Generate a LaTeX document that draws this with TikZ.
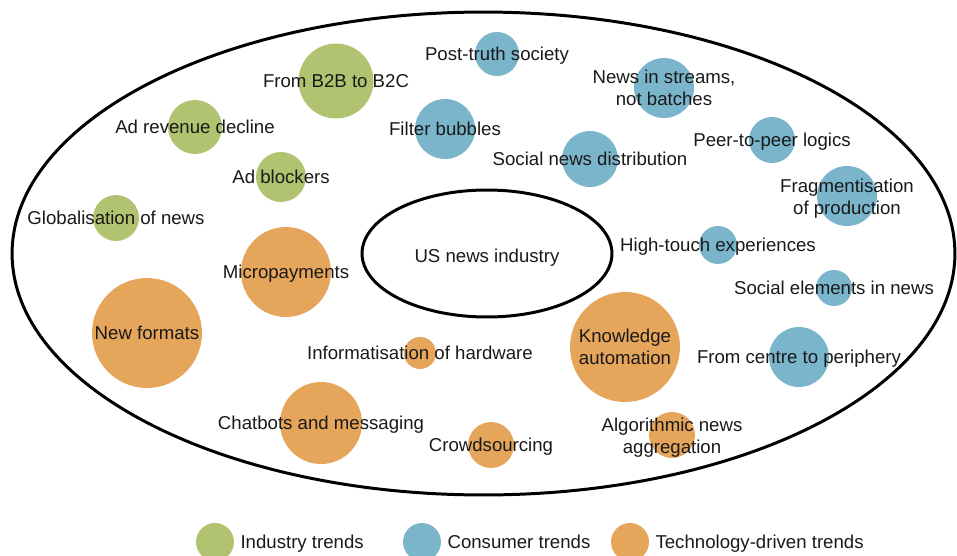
\documentclass[tikz,border=0pt]{standalone}
\usepackage{fontspec}
\setmainfont{Liberation Sans}
\usepackage{tikz}
\usetikzlibrary{shapes.geometric}
\definecolor{industry}{RGB}{177,195,112}
\definecolor{consumer}{RGB}{122,181,203}
\definecolor{techdriven}{RGB}{229,165,90}

\begin{document}
\begin{tikzpicture}[x=0.02cm, y=-0.02cm,
	every node/.style={font=\fontsize{10.6}{12.8}\selectfont, text=black!90},
	every label/.style={text height=0.72em, text depth=0pt},
	two_lines/.style={align=center, text height=, text depth=},
	trend_node/.style={circle, inner sep=0pt, minimum size=#1*0.04cm},
	industry_node/.style={trend_node=#1, fill=industry},
	consumer_node/.style={trend_node=#1, fill=consumer},
	tech_node/.style={trend_node=#1, fill=techdriven},
	ring_node/.style={ellipse, draw, line width=1.7pt, inner sep=0pt}]
				
				\useasboundingbox (0,0) rectangle (957,555);
				\clip (0,0) rectangle (957,555);
				
				\node[ring_node, minimum width=18.86cm, minimum height=9.66cm] (0) at (483.5,253.5) {};
				\node[ring_node, minimum width=5cm, minimum height=2.54cm, text height=1em, text depth=0pt] (1) at (487,253.5) {US news industry};
				
				\node[industry_node=37.5, label=center:From B2B to B2C] (2) at (336,81) {};
				\node[industry_node=27, label=center:Ad revenue decline] (3) at (195,127) {};
				\node[industry_node=25, label=center:Ad blockers] (4) at (281,177) {};
				\node[industry_node=23, label=center:Globalisation of news] (5) at (116,218) {};
				
				\node[consumer_node=22, label=center:Post-truth society] (6) at (497,54) {};
				\node[consumer_node=30, label=center:Filter bubbles] (7) at (445,129) {};
				\node[consumer_node=30, label={[two_lines]center:News in streams,\\not batches}] (8) at (664,88) {};
				\node[consumer_node=28, label=center:Social news distribution] (9) at (590,159) {};
				\node[consumer_node=23, label=center:Peer-to-peer logics] (10) at (772,140) {};
				\node[consumer_node=30, label={[two_lines, yshift=-1.5pt]center:Fragmentisation\\of production}] (11) at (847,196) {};
				\node[consumer_node=19, label=center:High-touch experiences] (12) at (718,245) {};
				\node[consumer_node=18, label=center:Social elements in news] (13) at (834,288) {};
				\node[consumer_node=30, label=center:From centre to periphery] (14) at (799,357) {};
				
				\node[tech_node=45, label=center:Micropayments] (15) at (286,272) {};
				\node[tech_node=55, label=center:New formats] (16) at (147,333) {};
				\node[tech_node=16, label=center:Informatisation of hardware] (17) at (420,353) {};
				\node[tech_node=41, label=center:Chatbots and messaging] (18) at (321,423) {};
				\node[tech_node=23, label=center:Crowdsourcing] (19) at (491,445) {};
				\node[tech_node=55, label={[two_lines]center:Knowledge\\automation}] (20) at (625,347) {};
				\node[tech_node=23, label={[two_lines, yshift=-1.5pt]center:Algorithmic news\\aggregation}] (21) at (672,435) {};
				
				\node[industry_node=19, label=right:Industry trends] (22) at (215,542) {};
				\node[consumer_node=19, label=right:Consumer trends] (23) at (422,542) {};
				\node[tech_node=19, label=right:Technology-driven trends] (24) at (630,542) {};
			\end{tikzpicture}
\end{document}
